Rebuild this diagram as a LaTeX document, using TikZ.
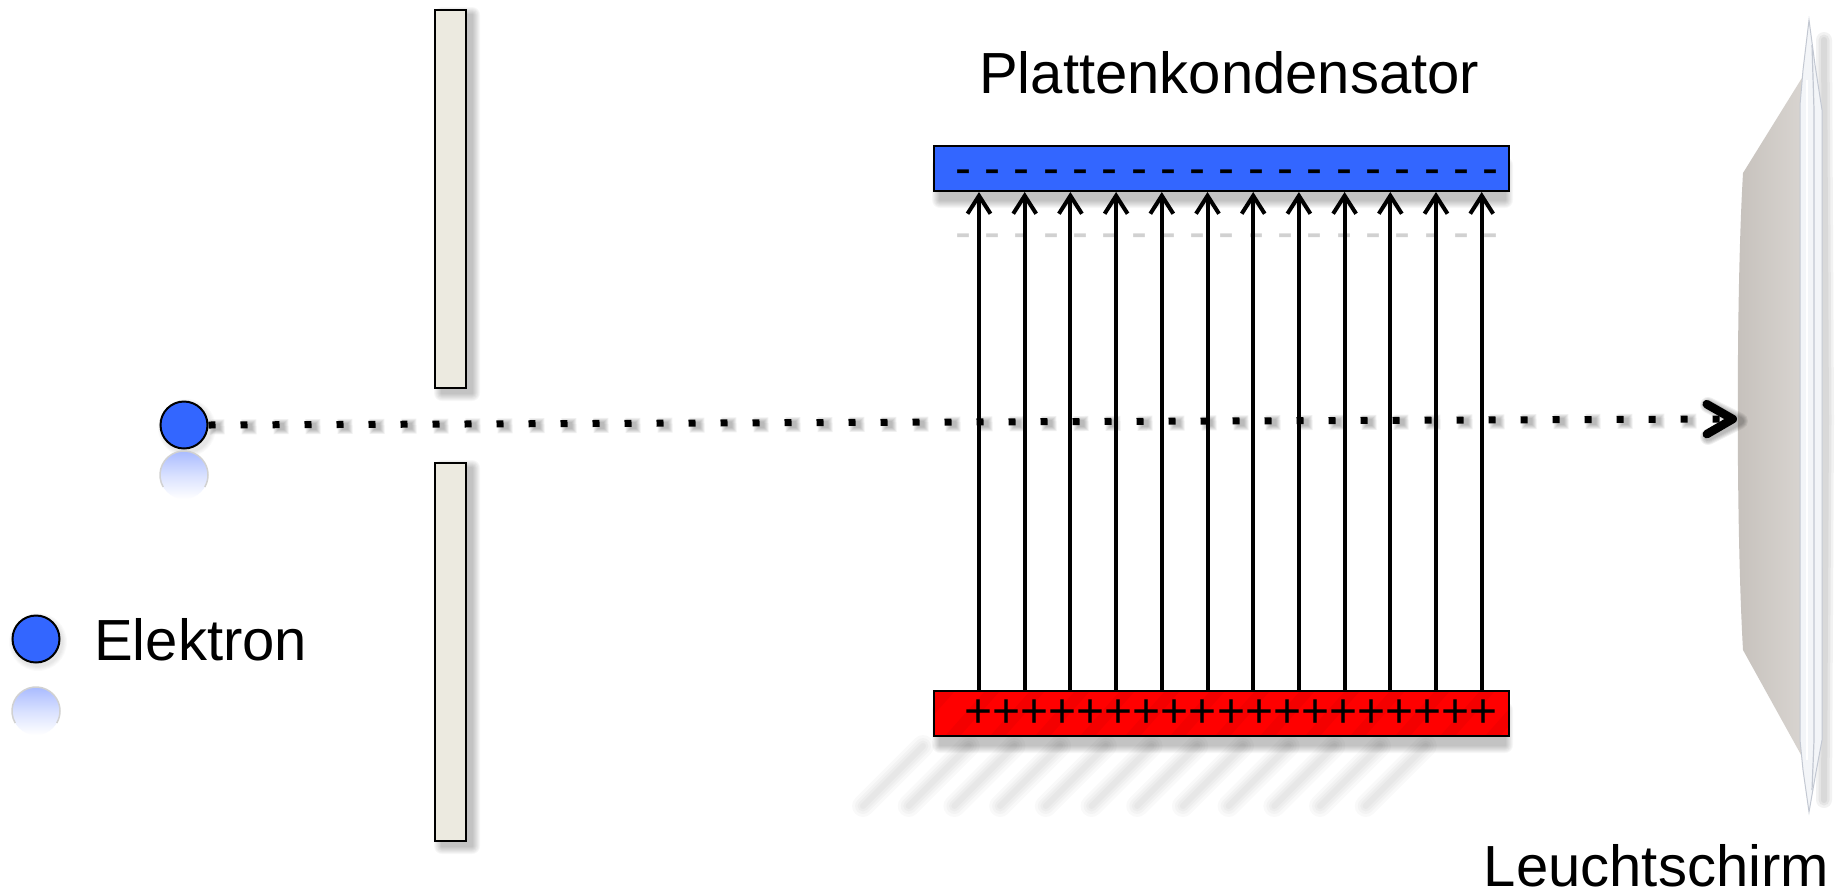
\documentclass[tikz,border=0pt]{standalone}
\usepackage{fontspec}
\setmainfont{Liberation Sans}
\usetikzlibrary{arrows.meta,calc}

\definecolor{plateblue}{HTML}{3366FF}
\definecolor{platered}{HTML}{FF0000}
\definecolor{slitfill}{HTML}{ECEAE0}
\definecolor{screenL}{HTML}{C6C1BC}
\definecolor{screenR}{HTML}{D9D5D1}
\definecolor{rimfill}{HTML}{F3F5F8}
\definecolor{rimline}{HTML}{C3C8D2}
\definecolor{reflblue}{HTML}{A9BBFF}

% soft grey shadow behind a rectangle (x1,y1)-(x2,y2)
\newcommand\blurbox[4]{%
  \foreach \r in {1,...,8}{%
    \fill[black,opacity=0.03,rounded corners=\r pt] (#1-\r,#2-\r) rectangle (#3+\r,#4+\r);
  }}

\begin{document}
\begin{tikzpicture}[x=1pt,y=-1pt,
  slitplate/.style={draw=black,line width=2.5pt,fill=slitfill,inner sep=0pt,
    minimum width=31pt,minimum height=378pt},
  capplate/.style={draw=black,line width=2pt,inner sep=0pt,
    minimum width=575pt,minimum height=45pt},
  electron/.style={circle,draw=black,line width=2pt,fill=plateblue,inner sep=0pt,
    minimum size=47pt},
  label/.style={inner sep=0pt,font=\fontsize{58}{70}\selectfont},
  signs/.style={inner sep=0pt,font=\fontsize{48}{58}\selectfont},
  field/.style={line width=4pt,-{Straight Barb[length=18pt,width=23pt]}},
  dotpath/.style={line width=7pt,dash pattern=on 7pt off 25pt,
    -{Straight Barb[length=26pt,width=30pt,line width=8.5pt,round]}},
]
\useasboundingbox (0,0) rectangle (1846,895);
\fill[white] (0,0) rectangle (1846,895);

% ---------- shadows ----------
\blurbox{442}{15}{472}{393}
\blurbox{442}{468}{472}{846}
\blurbox{940}{165}{1505}{200}
\blurbox{940}{710}{1505}{745}
\foreach \r in {1,...,5}{\fill[black,opacity=0.02] (187,428) circle (24+\r);}
\foreach \r in {1,...,5}{\fill[black,opacity=0.02] (38,642) circle (24+\r);}

% skewed reflections of the field lines below the positive plate
\foreach \i in {0,...,11}{
  \pgfmathsetmacro\sx{979+\i*45.7}
  \foreach \w in {22,16,11,6}{
    \draw[black,opacity=0.022,line width=\w pt,line cap=round]
      (\sx-56,746) -- (\sx-116,806);
  }}

% ---------- slit ----------
\node[slitplate] (slitA) at (450.5,199) {};
\node[slitplate] (slitB) at (450.5,652) {};

% ---------- screen ----------
\foreach \w in {16,11,6}{
  \draw[black,opacity=0.05,line width=\w pt,line cap=round]
    (1824,40) -- (1826,420) -- (1824,800);}
\shade[left color=screenL,right color=screenR]
  (1743,173) -- (1805,73) -- (1805,762) -- (1743,650)
  .. controls (1736,530) and (1736,290) .. (1743,173) -- cycle;
\fill[rimfill,draw=rimline,line width=1pt]
  (1809,20) -- (1815,65) -- (1822,110) -- (1822,740) -- (1816,772) -- (1809,812)
  -- (1803,770) -- (1800,740) -- (1800,105) -- (1803,70) -- cycle;
\draw[rimline,line width=1.2pt] (1812,45) -- (1814,110) -- (1814,740) -- (1812,790);
\draw[white,line width=2pt] (1807,80) -- (1807,760);
\coordinate (hit) at (1737,419);

% ---------- electron beam ----------
\node[electron] (e) at (184,425) {};
\shade[top color=reflblue,bottom color=white,middle color=reflblue!45] (184,475) circle (24);
\draw[black!18,line width=1.5pt] (184,475) ++(150:24) arc (150:390:24);

\foreach \k in {0,...,4}{
  \draw[black,opacity=0.06,line width=7pt+2*\k pt,
    dash pattern=on 7pt+2*\k pt off 25pt-2*\k pt]
    ([shift={(5-\k,2)}]e.east) -- ([shift={(-32,2)}]hit);
  \draw[black,opacity=0.06,line width=8pt+2*\k pt,line cap=round,line join=round]
    (1708,405) -- (1740,421) -- (1708,437);
}
\draw[dotpath] (e.east) -- (hit);

% ---------- capacitor ----------
\node[capplate,fill=plateblue] (plus) at (1221.5,168.5) {};
\node[capplate,fill=platered] (minus) at (1221.5,713.5) {};
\begin{scope}
  \clip ([shift={(1,-1)}]minus.south west) rectangle ([shift={(-1,1)}]minus.north east);
  \foreach \s in {0,...,14}{
    \fill[black,opacity=0.045] (900+\s*45,736) -- (915+\s*45,736)
      -- (955+\s*45,691) -- (940+\s*45,691) -- cycle;}
\end{scope}

\node[signs,anchor=base] (neg) at (1227,184) {- - - - - - - - - - - - - - - - - - -};
\node[signs,anchor=base,text=black!18] (negrefl) at (1227,248) {- - - - - - - - - - - - - - - - - - -};
\node[signs,anchor=base] (pos) at (1231,727) {+++++++++++++++++++};

\foreach \i in {0,...,11}{
  \pgfmathsetmacro\fx{979+\i*45.7}
  \coordinate (f\i) at (\fx,0);
  \draw[field] (f\i |- minus.north) -- (f\i |- plus.south);
}

% ---------- legend ----------
\node[electron] (legend) at (36,639) {};
\shade[top color=reflblue,bottom color=white,middle color=reflblue!45] (36,711) circle (24);
\draw[black!18,line width=1.5pt] (36,711) ++(150:24) arc (150:390:24);
\node[label,anchor=base west] (lbl) at (94,660) {Elektron};

% ---------- captions ----------
\node[label,anchor=base west] (cap) at (979,93) {Plattenkondensator};
\node[label,anchor=base east] (scr) at (1829,886) {Leuchtschirm};
\end{tikzpicture}
\end{document}
